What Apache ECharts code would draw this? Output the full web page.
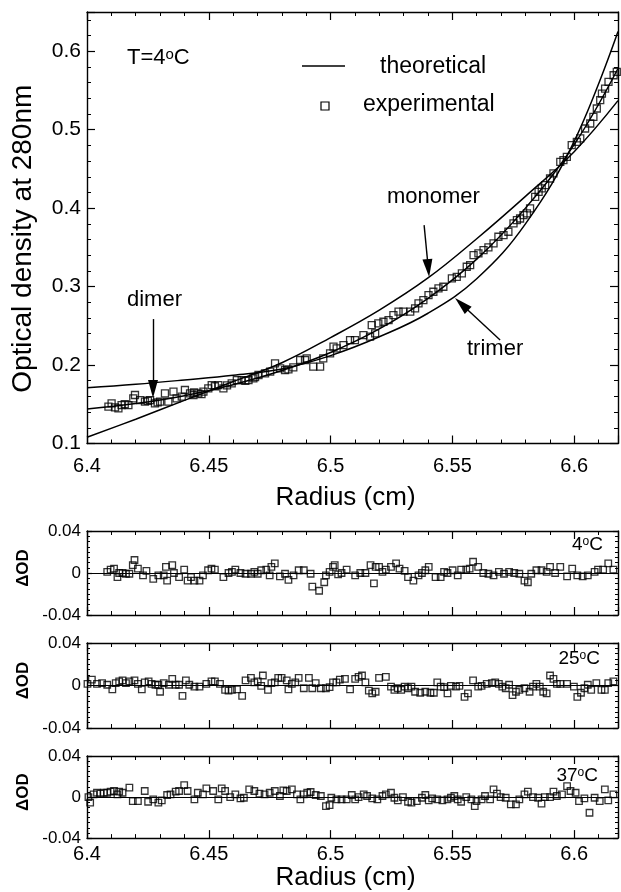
<!DOCTYPE html>
<html>
<head>
<meta charset="utf-8">
<script src="https://cdn.jsdelivr.net/npm/echarts@6/dist/echarts.min.js"></script>
<style>
  html, body { margin: 0; padding: 0; background: #fff; }
  #chart { width: 621px; height: 892px; }
</style>
</head>
<body>
<div id="chart"></div>
<script>
// theoretical fits
const curveRadius = [6.40, 6.42, 6.44, 6.46, 6.48, 6.50, 6.52, 6.54, 6.56, 6.58, 6.60, 6.618];
const monomer = [0.108, 0.131, 0.155, 0.179, 0.203, 0.235, 0.270, 0.311, 0.361, 0.415, 0.472, 0.537];
const dimer = [0.144, 0.151, 0.161, 0.175, 0.193, 0.216, 0.246, 0.285, 0.335, 0.400, 0.481, 0.578];
const trimer = [0.171, 0.1755, 0.181, 0.187, 0.195, 0.212, 0.236, 0.266, 0.310, 0.380, 0.485, 0.625];

// experimental scan at 4 C  [radius, OD]
const experimental = [
  [6.4088,0.1469],[6.4101,0.1512],[6.4115,0.1460],[6.4129,0.1448],[6.4142,0.1490],[6.4155,0.1500],
  [6.4170,0.1490],[6.4190,0.1575],[6.4197,0.1618],[6.4218,0.1554],[6.4238,0.1533],[6.4250,0.1545],
  [6.4259,0.1554],[6.4279,0.1512],[6.4290,0.1525],[6.4300,0.1533],[6.4320,0.1639],[6.4334,0.1533],
  [6.4355,0.1660],[6.4368,0.1575],[6.4389,0.1597],[6.4402,0.1682],[6.4423,0.1639],[6.4437,0.1618],
  [6.4440,0.1650],[6.4457,0.1639],[6.4470,0.1630],[6.4478,0.1660],[6.4498,0.1703],[6.4512,0.1745],
  [6.4525,0.1730],[6.4539,0.1745],[6.4560,0.1703],[6.4575,0.1740],[6.4594,0.1766],[6.4615,0.1809],
  [6.4635,0.1809],[6.4650,0.1800],[6.4663,0.1809],[6.4683,0.1830],[6.4690,0.1845],[6.4704,0.1873],
  [6.4731,0.1894],[6.4752,0.1915],[6.4772,0.2021],[6.4793,0.1958],[6.4813,0.1936],[6.4827,0.1945],
  [6.4847,0.1970],[6.4875,0.2064],[6.4895,0.2064],[6.4902,0.2085],[6.4929,0.1979],[6.4957,0.1979],
  [6.4970,0.2085],[6.4998,0.2149],[6.5012,0.2234],[6.5025,0.2212],[6.5053,0.2255],[6.5080,0.2318],
  [6.5100,0.2318],[6.5135,0.2382],[6.5162,0.2361],[6.5169,0.2510],[6.5183,0.2403],[6.5196,0.2531],
  [6.5217,0.2552],[6.5238,0.2573],[6.5258,0.2637],[6.5279,0.2680],[6.5299,0.2680],[6.5327,0.2680],
  [6.5347,0.2722],[6.5361,0.2786],[6.5381,0.2828],[6.5402,0.2892],[6.5422,0.2934],[6.5443,0.2977],
  [6.5463,0.2998],[6.5498,0.3104],[6.5518,0.3125],[6.5539,0.3168],[6.5559,0.3253],[6.5573,0.3274],
  [6.5587,0.3401],[6.5607,0.3423],[6.5628,0.3465],[6.5648,0.3499],[6.5669,0.3550],[6.5689,0.3635],
  [6.5710,0.3656],[6.5730,0.3699],[6.5751,0.3805],[6.5765,0.3847],[6.5778,0.3868],[6.5792,0.3911],
  [6.5806,0.3932],[6.5819,0.3996],[6.5840,0.4144],[6.5854,0.4208],[6.5867,0.4251],[6.5881,0.4293],
  [6.5901,0.4378],[6.5915,0.4442],[6.5943,0.4590],[6.5956,0.4612],[6.5970,0.4654],[6.5990,0.4803],
  [6.6011,0.4845],[6.6025,0.4888],[6.6045,0.5015],[6.6066,0.5079],[6.6079,0.5163],[6.6093,0.5270],
  [6.6107,0.5376],[6.6114,0.5460],[6.6127,0.5524],[6.6141,0.5609],[6.6162,0.5694],[6.6175,0.5737]
];

// residuals (dimer fit) at 4, 25 and 37 C  [radius, dOD]
const resid4C = [
  [6.4083,0.0010],[6.4097,0.0033],[6.4111,0.0042],[6.4125,-0.0039],[6.4132,0],[6.4146,0],[6.4160,-0.0007],
  [6.4174,-0.0007],[6.4188,0.0075],[6.4195,0.0124],[6.4209,0.0042],[6.4230,-0.0023],[6.4244,0.0020],
  [6.4272,-0.0055],[6.4293,-0.0023],[6.4315,-0.0023],[6.4324,0.0059],[6.4329,-0.0072],[6.4350,0.0075],
  [6.4357,0],[6.4378,-0.0039],[6.4399,0.0033],[6.4413,-0.0072],[6.4427,-0.0039],[6.4441,-0.0072],
  [6.4462,-0.0072],[6.4476,-0.0023],[6.4497,0.0026],[6.4511,0.0042],[6.4525,0.0033],[6.4560,-0.0039],
  [6.4581,0],[6.4595,0.0010],[6.4609,0.0033],[6.4630,0],[6.4651,-0.0007],[6.4673,-0.0007],[6.4687,0.0010],
  [6.4701,-0.0007],[6.4715,0.0026],[6.4736,0.0033],[6.4750,-0.0023],[6.4757,0.0059],[6.4771,0.0091],
  [6.4792,-0.0033],[6.4813,-0.0007],[6.4827,-0.0065],[6.4848,-0.0023],[6.4869,0.0026],[6.4890,0.0026],
  [6.4918,-0.0007],[6.4925,-0.0130],[6.4953,-0.0169],[6.4974,-0.0088],[6.4981,-0.0023],[6.4996,0.0010],
  [6.5010,0.0059],[6.5017,0.0075],[6.5031,-0.0013],[6.5045,0],[6.5066,0.0033],[6.5101,-0.0023],
  [6.5122,0],[6.5143,0],[6.5164,0.0075],[6.5178,-0.0098],[6.5185,0.0059],[6.5199,0.0059],[6.5213,0.0010],
  [6.5227,0.0033],[6.5248,0.0059],[6.5269,0.0091],[6.5283,0.0042],[6.5304,0.0020],[6.5318,-0.0039],
  [6.5340,-0.0072],[6.5361,-0.0023],[6.5375,0],[6.5389,0.0026],[6.5403,0.0059],[6.5431,-0.0039],
  [6.5452,-0.0039],[6.5466,0.0010],[6.5480,0],[6.5501,0.0026],[6.5522,-0.0023],[6.5536,0.0033],
  [6.5557,0.0033],[6.5571,0.0042],[6.5585,0.0107],[6.5606,0.0059],[6.5627,0],[6.5648,-0.0007],
  [6.5669,-0.0023],[6.5691,0.0010],[6.5712,-0.0007],[6.5733,0.0010],[6.5754,0],[6.5775,-0.0007],
  [6.5796,-0.0072],[6.5810,-0.0088],[6.5824,-0.0007],[6.5845,0.0026],[6.5866,0.0026],[6.5887,0.0010],
  [6.5901,0.0059],[6.5922,0],[6.5943,0.0059],[6.5971,-0.0033],[6.5992,0.0042],[6.6013,-0.0023],
  [6.6035,-0.0033],[6.6056,-0.0023],[6.6084,0.0010],[6.6098,0.0033],[6.6119,0.0033],[6.6140,0.0091],
  [6.6161,0.0033],[6.6182,0.0010]
];
const resid25C = [
  [6.4002,0.0016],[6.4020,0.0055],[6.4041,0.0016],[6.4062,0.0023],[6.4083,0.0007],[6.4104,-0.0036],
  [6.4118,0.0023],[6.4132,0.0039],[6.4146,0.0049],[6.4160,0.0023],[6.4174,0.0039],[6.4195,0.0049],
  [6.4209,0.0016],[6.4225,-0.0036],[6.4237,0.0029],[6.4253,0.0039],[6.4265,0.0016],[6.4281,0.0007],
  [6.4293,0.0007],[6.4300,-0.0059],[6.4315,0.0023],[6.4336,0.0007],[6.4350,0.0062],[6.4364,0.0007],
  [6.4378,0.0007],[6.4392,-0.0098],[6.4406,0.0049],[6.4420,0.0007],[6.4441,-0.0010],[6.4462,-0.0010],
  [6.4490,0.0016],[6.4511,0.0039],[6.4525,0.0039],[6.4546,0.0016],[6.4567,-0.0042],[6.4581,-0.0049],
  [6.4595,-0.0042],[6.4616,-0.0036],[6.4637,-0.0098],[6.4651,0.0049],[6.4673,0.0072],[6.4687,0.0029],
  [6.4701,0.0039],[6.4715,-0.0003],[6.4722,0.0094],[6.4743,-0.0042],[6.4757,0.0023],[6.4771,0.0029],
  [6.4785,0.0072],[6.4799,0.0072],[6.4820,0.0049],[6.4827,-0.0036],[6.4841,0.0016],[6.4855,0.0029],
  [6.4869,0.0072],[6.4890,-0.0026],[6.4911,0.0072],[6.4925,-0.0026],[6.4939,0.0023],[6.4960,-0.0026],
  [6.4981,-0.0026],[6.4996,-0.0016],[6.5010,0.0029],[6.5024,0.0029],[6.5038,0.0055],[6.5059,0.0062],
  [6.5080,-0.0036],[6.5101,0.0062],[6.5115,0.0081],[6.5129,0.0094],[6.5143,0.0029],[6.5157,-0.0049],
  [6.5171,-0.0075],[6.5185,-0.0059],[6.5199,0.0072],[6.5227,0.0081],[6.5248,-0.0010],[6.5262,-0.0042],
  [6.5276,-0.0026],[6.5290,-0.0042],[6.5304,-0.0010],[6.5318,-0.0026],[6.5332,-0.0010],[6.5347,-0.0059],
  [6.5368,-0.0068],[6.5389,-0.0059],[6.5410,-0.0068],[6.5424,-0.0068],[6.5438,0.0029],[6.5452,-0.0010],
  [6.5466,-0.0016],[6.5480,-0.0075],[6.5494,-0.0003],[6.5515,-0.0010],[6.5529,-0.0003],[6.5550,-0.0107],
  [6.5564,-0.0075],[6.5585,0.0049],[6.5606,-0.0010],[6.5620,-0.0003],[6.5641,0.0016],[6.5662,0.0023],
  [6.5676,0.0029],[6.5691,0.0016],[6.5705,-0.0010],[6.5719,-0.0026],[6.5733,0.0007],[6.5747,-0.0091],
  [6.5761,-0.0059],[6.5775,-0.0042],[6.5796,-0.0026],[6.5817,-0.0059],[6.5831,-0.0010],[6.5845,0.0016],
  [6.5859,-0.0010],[6.5873,-0.0059],[6.5887,-0.0075],[6.5901,0.0094],[6.5915,0.0062],[6.5929,0.0016],
  [6.5943,0.0016],[6.5971,0.0016],[6.5999,-0.0010],[6.6013,-0.0107],[6.6028,-0.0068],[6.6042,-0.0026],
  [6.6056,0.0007],[6.6070,-0.0042],[6.6091,0.0023],[6.6112,-0.0042],[6.6126,-0.0042],[6.6140,0.0023],
  [6.6161,0.0039],[6.6182,0.0016]
];
const resid37C = [
  [6.4006,0],[6.4013,-0.0055],[6.4027,0.0026],[6.4041,0.0042],[6.4055,0.0033],[6.4069,0.0042],
  [6.4083,0.0042],[6.4097,0.0052],[6.4111,0.0059],[6.4125,0.0026],[6.4132,0.0052],[6.4146,0.0042],
  [6.4174,0.0091],[6.4188,-0.0039],[6.4209,-0.0039],[6.4237,0.0059],[6.4251,-0.0046],[6.4272,-0.0023],
  [6.4293,-0.0055],[6.4307,-0.0033],[6.4329,0.0020],[6.4343,0.0026],[6.4364,0.0052],[6.4378,0.0059],
  [6.4399,0.0117],[6.4413,0.0059],[6.4441,-0.0023],[6.4455,0.0042],[6.4476,0.0026],[6.4490,0.0085],
  [6.4518,0.0059],[6.4539,-0.0023],[6.4553,0.0085],[6.4567,0.0059],[6.4588,0],[6.4609,0.0026],
  [6.4630,-0.0013],[6.4644,-0.0007],[6.4666,0.0075],[6.4687,0.0059],[6.4708,0.0033],[6.4729,0.0026],
  [6.4750,0.0042],[6.4771,0.0059],[6.4792,0.0010],[6.4806,0.0065],[6.4820,0.0059],[6.4841,0.0075],
  [6.4862,0.0026],[6.4876,-0.0023],[6.4890,0.0026],[6.4904,0.0042],[6.4918,0.0049],[6.4939,0.0020],
  [6.4960,0.0010],[6.4981,-0.0088],[6.4996,-0.0078],[6.5003,-0.0007],[6.5024,-0.0023],[6.5045,-0.0023],
  [6.5066,-0.0023],[6.5087,0.0020],[6.5101,-0.0023],[6.5115,0],[6.5136,0.0026],[6.5150,0.0010],
  [6.5171,-0.0013],[6.5192,-0.0023],[6.5213,0.0010],[6.5227,0.0026],[6.5248,0.0042],[6.5262,-0.0007],
  [6.5276,-0.0033],[6.5297,0],[6.5318,-0.0046],[6.5332,-0.0055],[6.5354,-0.0039],[6.5375,-0.0007],
  [6.5389,0.0020],[6.5403,-0.0033],[6.5417,-0.0013],[6.5438,-0.0023],[6.5459,-0.0033],[6.5480,-0.0023],
  [6.5494,-0.0007],[6.5508,0.0010],[6.5522,-0.0023],[6.5536,-0.0046],[6.5557,0],[6.5578,-0.0023],
  [6.5592,-0.0088],[6.5599,-0.0039],[6.5620,-0.0023],[6.5634,0.0010],[6.5655,-0.0023],[6.5669,0.0075],
  [6.5683,0.0033],[6.5698,0],[6.5719,-0.0007],[6.5740,-0.0072],[6.5761,-0.0072],[6.5775,-0.0023],
  [6.5796,0.0026],[6.5810,0.0052],[6.5831,0],[6.5852,-0.0007],[6.5866,-0.0065],[6.5880,0],
  [6.5901,0],[6.5915,0.0052],[6.5929,0.0010],[6.5950,0.0026],[6.5971,0.0107],[6.5985,0.0059],
  [6.6006,0.0042],[6.6020,-0.0039],[6.6042,-0.0013],[6.6063,-0.0153],[6.6084,-0.0007],[6.6105,-0.0039],
  [6.6126,0.0075],[6.6140,-0.0033],[6.6161,0.0026],[6.6182,0.0026]
];

const radiusTickLabels = [6.4, 6.45, 6.5, 6.55, 6.6];
const odTickLabels = [0.1, 0.2, 0.3, 0.4, 0.5, 0.6];
const residTickLabels = [-0.04, 0, 0.04];
const residPanels = [
  { temp: '4', data: resid4C },
  { temp: '25', data: resid25C },
  { temp: '37', data: resid37C },
];

const FONT = '"Liberation Sans", Arial, Helvetica, sans-serif';
const pickLabel = (list) => (v) => {
  const hit = list.find((t) => Math.abs(t - v) < 1e-6);
  return hit === undefined ? '' : String(hit);
};

const grids = [
  { left: 87, top: 12, width: 531, height: 431.5 },
  { left: 87, top: 531, width: 531, height: 84 },
  { left: 87, top: 643, width: 531, height: 85 },
  { left: 87, top: 756, width: 531, height: 85 },
];

function tickStyle(minorSplit, majorLen, minorLen) {
  return {
    axisLine: { show: true, onZero: false, lineStyle: { color: '#000', width: 1.4 } },
    axisTick: { show: true, inside: true, length: majorLen, lineStyle: { color: '#000', width: 1.2 } },
    minorTick: { show: true, splitNumber: minorSplit, length: minorLen, lineStyle: { color: '#000', width: 1 } },
    splitLine: { show: false },
    minorSplitLine: { show: false },
  };
}

function radiusAxis(gridIndex, position, label, name) {
  const ax = Object.assign({
    type: 'value', gridIndex, position, min: 6.4, max: 6.618, interval: 0.05,
    axisLabel: { show: false },
  }, tickStyle(5, 8, 4));
  if (label) {
    ax.axisLabel = {
      show: true, margin: label.margin, color: '#000', fontSize: 20, fontFamily: FONT,
      formatter: pickLabel(radiusTickLabels),
    };
  }
  if (name) {
    ax.name = 'Radius (cm)';
    ax.nameLocation = 'middle';
    ax.nameGap = name.gap;
    ax.nameTextStyle = { color: '#000', fontSize: 26, fontFamily: FONT, padding: [0, 14, 0, 0] };
  }
  return ax;
}

const xAxes = [
  radiusAxis(0, 'bottom', { margin: 13 }, { gap: 41 }),
  radiusAxis(0, 'top'),
  radiusAxis(1, 'bottom'), radiusAxis(1, 'top'),
  radiusAxis(2, 'bottom'), radiusAxis(2, 'top'),
  radiusAxis(3, 'bottom', { margin: 6 }, { gap: 26 }),
  radiusAxis(3, 'top'),
];

const yAxes = [
  Object.assign({
    type: 'value', gridIndex: 0, position: 'left', min: 0.1, max: 0.65, interval: 0.1,
    axisLabel: { show: true, margin: 6, color: '#000', fontSize: 21, fontFamily: FONT, formatter: pickLabel(odTickLabels) },
    name: 'Optical density at 280nm', nameLocation: 'middle', nameRotate: 90, nameGap: 50,
    nameTextStyle: { color: '#000', fontSize: 28, fontFamily: FONT, padding: [0, 22, 0, 0] },
  }, tickStyle(5, 8, 4)),
  Object.assign({
    type: 'value', gridIndex: 0, position: 'right', min: 0.1, max: 0.65, interval: 0.1, axisLabel: { show: false },
  }, tickStyle(5, 8, 4)),
];
[1, 2, 3].forEach((g) => {
  yAxes.push(Object.assign({
    type: 'value', gridIndex: g, position: 'left', min: -0.04, max: 0.04, interval: 0.04,
    axisLabel: { show: true, margin: 6, color: '#000', fontSize: 17, fontFamily: FONT, formatter: pickLabel(residTickLabels) },
    name: 'ΔOD', nameLocation: 'middle', nameRotate: 90, nameGap: 50,
    nameTextStyle: { color: '#000', fontSize: 17, fontWeight: 'bold', fontFamily: FONT, padding: [0, 0, 0, 10] },
  }, tickStyle(8, 5, 3)));
  yAxes.push(Object.assign({
    type: 'value', gridIndex: g, position: 'right', min: -0.04, max: 0.04, interval: 0.04, axisLabel: { show: false },
  }, tickStyle(8, 5, 3)));
});

const lineSeries = (data) => ({
  type: 'line', xAxisIndex: 0, yAxisIndex: 0, smooth: 0.4, symbol: 'none', silent: true,
  lineStyle: { color: '#000', width: 1.5 },
  data: curveRadius.map((r, i) => [r, data[i]]),
});

const arrows = {
  silent: true, symbol: ['none', 'triangle'], symbolSize: [10, 18],
  lineStyle: { color: '#000', width: 1.4, type: 'solid' },
  itemStyle: { color: '#000' },
  label: { show: false },
  data: [
    [{ coord: [6.5384, 0.3783] }, { coord: [6.5401, 0.3236] }],
    [{ coord: [6.4271, 0.2586] }, { coord: [6.4271, 0.1694] }],
    [{ coord: [6.5696, 0.2318] }, { coord: [6.5538, 0.2776] }],
  ],
};

const squareStyle = { color: 'rgba(0,0,0,0)', borderColor: '#000', borderWidth: 1.3 };

const series = [
  lineSeries(monomer),
  Object.assign(lineSeries(dimer), { markLine: arrows }),
  lineSeries(trimer),
  {
    type: 'scatter', xAxisIndex: 0, yAxisIndex: 0, symbol: 'rect', symbolSize: 7,
    itemStyle: squareStyle, data: experimental,
  },
];
residPanels.forEach((p, i) => {
  const g = i + 1;
  series.push({
    type: 'scatter', xAxisIndex: 2 * g, yAxisIndex: 2 * g, symbol: 'rect', symbolSize: 6.5,
    itemStyle: squareStyle, data: p.data,
    markLine: {
      silent: true, symbol: 'none', label: { show: false },
      lineStyle: { color: '#000', width: 1.2, type: 'solid' },
      data: [{ yAxis: 0 }],
    },
  });
});

const textEl = (x, y, text, size, extra) => ({
  type: 'text', x, y, silent: true,
  style: Object.assign({ text, fontSize: size, fontFamily: FONT, fill: '#000', verticalAlign: 'middle', align: 'left' }, extra || {}),
});

const sup = (size) => ({ s: { fontSize: size, fontFamily: FONT, fill: '#000', verticalAlign: 'top' } });

const graphic = [
  textEl(127, 58, 'T=4{s|o}C', 22, { rich: sup(15) }),
  { type: 'line', silent: true, shape: { x1: 302, y1: 66, x2: 345, y2: 66 }, style: { stroke: '#000', lineWidth: 1.3 } },
  textEl(380, 67, 'theoretical', 23),
  { type: 'rect', silent: true, shape: { x: 321, y: 102, width: 8, height: 8 }, style: { fill: 'none', stroke: '#000', lineWidth: 1.2 } },
  textEl(363, 105, 'experimental', 23),
  textEl(387, 197, 'monomer', 22),
  textEl(127, 300, 'dimer', 22),
  textEl(467, 349, 'trimer', 22),
];
const tempY = [545, 659, 776];
const tempRight = [603, 600, 598];
residPanels.forEach((p, i) => {
  graphic.push(textEl(tempRight[i], tempY[i], p.temp + '{s|o}C', 19, { align: 'right', rich: sup(12) }));
});

const chart = echarts.init(document.getElementById('chart'), null, { renderer: 'canvas' });
chart.setOption({
  animation: false,
  backgroundColor: '#fff',
  grid: grids.map((g) => Object.assign({ show: false, containLabel: false }, g)),
  xAxis: xAxes,
  yAxis: yAxes,
  series,
  graphic,
});
</script>
</body>
</html>
